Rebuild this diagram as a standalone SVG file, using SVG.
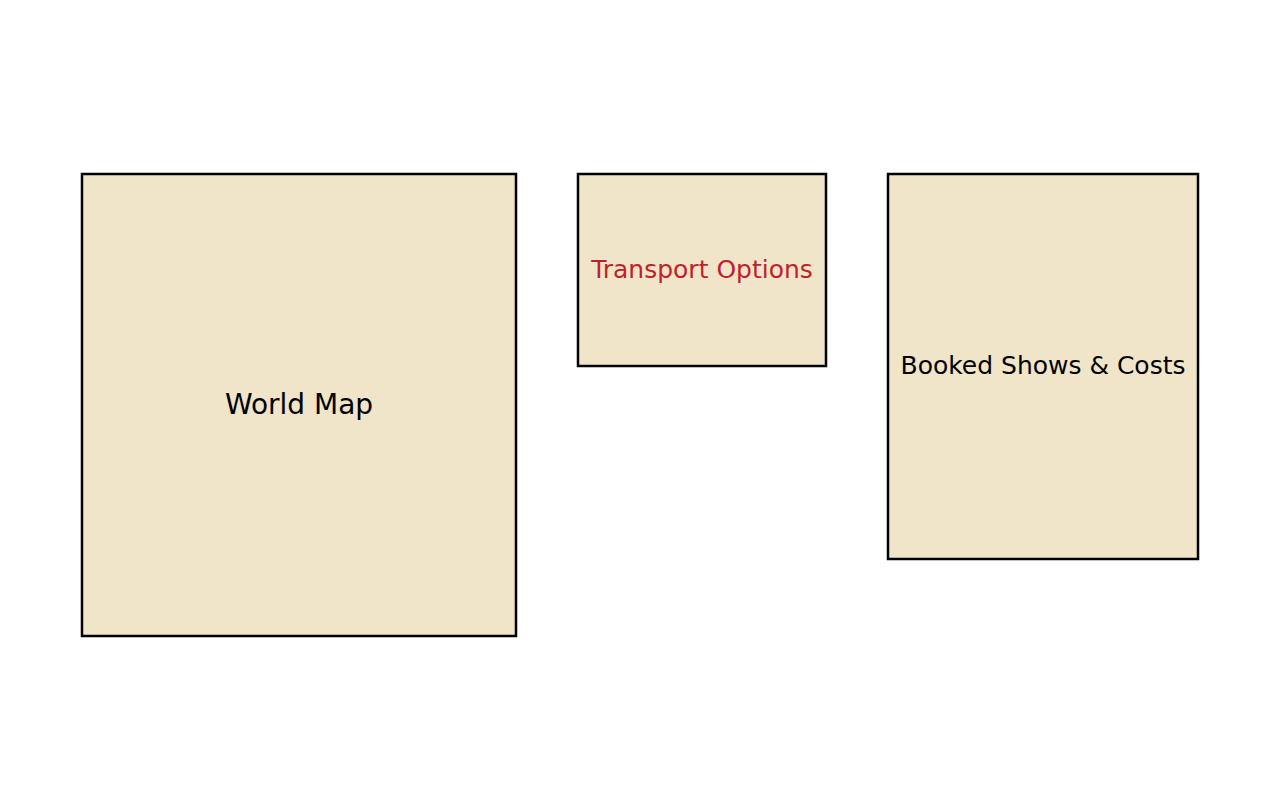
<svg xmlns="http://www.w3.org/2000/svg" width="1280" height="810" viewBox="0 0 1280 810">
<style>
.box{fill:#f0e5c8;stroke:#000;stroke-width:2.5}
.lbl{font-family:"DejaVu Sans",sans-serif;text-anchor:middle;dominant-baseline:central;fill:#000}
</style>
<rect width="1280" height="810" fill="#fff"/>
<g id="world-map">
<rect class="box" x="82" y="174" width="434" height="462"/>
<text class="lbl" x="299" y="404" font-size="28">World Map</text>
</g>
<g id="transport-options">
<rect class="box" x="578" y="174" width="248" height="192"/>
<text class="lbl" x="702" y="269" font-size="25" style="fill:#c01f2b">Transport Options</text>
</g>
<g id="booked-shows">
<rect class="box" x="888" y="174" width="310" height="385"/>
<text class="lbl" x="1043" y="365" font-size="25">Booked Shows &amp; Costs</text>
</g>
<g id="connectors"></g>
</svg>
